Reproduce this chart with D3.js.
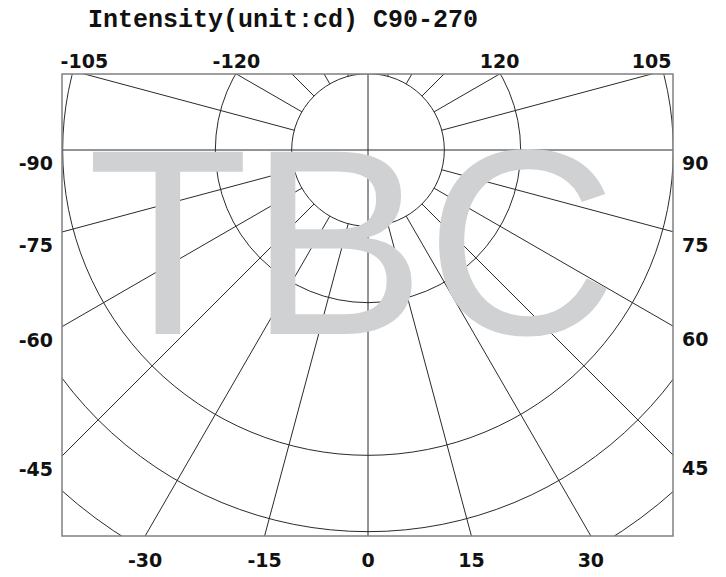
<!DOCTYPE html>
<html>
<head>
<meta charset="utf-8">
<script src="https://cdn.jsdelivr.net/npm/d3@7"></script>
<style>
  html, body { margin: 0; padding: 0; background: #fff; }
  svg { display: block; }
</style>
</head>
<body>
<svg id="chart" width="726" height="577"></svg>
<script>
// ---- data ----
const title = "Intensity(unit:cd) C90-270";
const circleValues = [1, 2, 4, 5, 6];          // radial grid circles (units)
const rayAngles = [15, 30, 45, 60, 75, 105, 120, 135, 150, 165]; // degrees, mirrored on both sides
const topLabels = [-105, -120, 120, 105];
const leftLabels = [-90, -75, -60, -45];
const rightLabels = [90, 75, 60, 45];
const bottomLabels = [-30, -15, 0, 15, 30];
const centerLabel = "0";
const watermark = "TBC";

// ---- layout ----
const box = { x0: 62, x1: 673, y0: 74, y1: 536 };
const cx = 368, cy = 150;
const r = d3.scaleLinear().domain([0, 6]).range([0, 458]);
const rad = d => d * Math.PI / 180;

const svg = d3.select("#chart");
svg.append("defs").append("clipPath").attr("id", "clip")
  .append("rect").attr("x", box.x0).attr("y", box.y0)
  .attr("width", box.x1 - box.x0).attr("height", box.y1 - box.y0);

const g = svg.append("g").attr("clip-path", "url(#clip)");
const gridColor = "#2a2a2a";

// circles
g.selectAll("circle.grid").data(circleValues).enter().append("circle")
  .attr("cx", cx).attr("cy", cy).attr("r", d => r(d))
  .attr("fill", "none").attr("stroke", gridColor).attr("stroke-width", 1);

// rays (from inner circle outward)
const allRays = rayAngles.flatMap(a => [a, -a]);
const far = r(20);
g.selectAll("line.ray").data(allRays).enter().append("line")
  .attr("x1", d => cx + r(1) * Math.sin(rad(d)))
  .attr("y1", d => cy + r(1) * Math.cos(rad(d)))
  .attr("x2", d => cx + far * Math.sin(rad(d)))
  .attr("y2", d => cy + far * Math.cos(rad(d)))
  .attr("stroke", gridColor).attr("stroke-width", 1);

// main axes through center
g.append("line").attr("x1", cx).attr("x2", cx).attr("y1", box.y0).attr("y2", box.y1)
  .attr("stroke", gridColor).attr("stroke-width", 1);
g.append("line").attr("x1", box.x0).attr("x2", box.x1).attr("y1", cy).attr("y2", cy)
  .attr("stroke", gridColor).attr("stroke-width", 1);

// box
svg.append("rect").attr("x", box.x0).attr("y", box.y0)
  .attr("width", box.x1 - box.x0).attr("height", box.y1 - box.y0)
  .attr("fill", "none").attr("stroke", "#808080").attr("stroke-width", 1.5);

// label helpers: intersection of ray with box sides
const labelFont = "'DejaVu Sans', sans-serif";
function xAtY(angle, y) {
  const dy = y - cy;
  return cx + dy * Math.tan(rad(angle));
}
function yAtX(angle, x) {
  const dx = x - cx;
  return cy + dx / Math.tan(rad(angle));
}

const lab = svg.append("g").attr("font-family", labelFont).attr("font-weight", "bold")
  .attr("font-size", 19).attr("fill", "#111");

lab.selectAll("text.top").data(topLabels).enter().append("text")
  .attr("x", d => xAtY(d, box.y0)).attr("y", box.y0 - 6)
  .attr("text-anchor", "middle").text(d => d);

lab.selectAll("text.left").data(leftLabels).enter().append("text")
  .attr("x", box.x0 - 9).attr("y", d => (d === -90 ? cy : yAtX(d, box.x0)) + 20)
  .attr("text-anchor", "end").text(d => d);

lab.selectAll("text.right").data(rightLabels).enter().append("text")
  .attr("x", box.x1 + 9).attr("y", d => (d === 90 ? cy : yAtX(d, box.x1)) + 20)
  .attr("text-anchor", "start").text(d => d);

lab.selectAll("text.bottom").data(bottomLabels).enter().append("text")
  .attr("x", d => xAtY(d, box.y1)).attr("y", box.y1 + 31)
  .attr("text-anchor", "middle").text(d => d);

// center value label (mostly hidden behind the watermark, as in the reference)
svg.append("text").attr("x", cx - 14).attr("y", cy + 20)
  .attr("font-family", labelFont).attr("font-weight", "bold").attr("font-size", 13)
  .attr("text-anchor", "middle").attr("fill", "#111").text(centerLabel);

// title
svg.append("text").attr("x", 88).attr("y", 27)
  .attr("font-family", "'Liberation Mono', 'Courier New', monospace")
  .attr("font-weight", "bold").attr("font-size", 25).attr("fill", "#111")
  .text(title);

// watermark
svg.append("text").attr("x", 352).attr("y", 334)
  .attr("font-family", "'Liberation Sans', Arial, sans-serif")
  .attr("font-size", 265).attr("text-anchor", "middle").attr("fill", "#d0d1d3")
  .text(watermark);
</script>
</body>
</html>
